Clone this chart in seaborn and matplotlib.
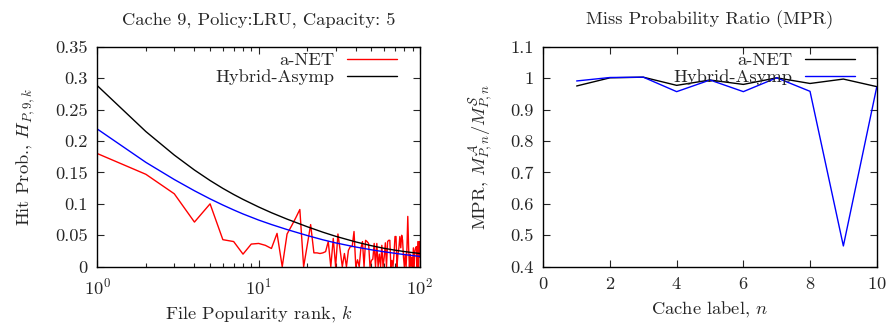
import numpy as np
import pandas as pd
import matplotlib
matplotlib.use("Agg")
import matplotlib.pyplot as plt
import seaborn as sns
from matplotlib.ticker import FixedLocator, FixedFormatter, LogLocator, NullFormatter

# ---------------- data ----------------
# Left panel: hit probability vs popularity rank
rank_k = list(range(1, 101))
anet_hit = [0.180, 0.147, 0.116, 0.071, 0.100, 0.043, 0.040, 0.020, 0.036, 0.037,
            0.034, 0.029, 0.053, 0.000, 0.052, 0.065, 0.078, 0.091, 0.000, 0.034,
            0.067, 0.022, 0.022, 0.021, 0.022, 0.024, 0.040, 0.000, 0.045, 0.000,
            0.052, 0.026, 0.000, 0.021, 0.000, 0.026, 0.032, 0.032, 0.056, 0.000,
            0.011, 0.000, 0.029, 0.040, 0.000, 0.042, 0.040, 0.037, 0.000, 0.010,
            0.012, 0.037, 0.000, 0.037, 0.000, 0.020, 0.000, 0.034, 0.000, 0.015,
            0.038, 0.000, 0.040, 0.042, 0.042, 0.000, 0.010, 0.000, 0.020, 0.048,
            0.048, 0.000, 0.020, 0.030, 0.048, 0.030, 0.050, 0.042, 0.015, 0.000,
            0.020, 0.000, 0.030, 0.080, 0.030, 0.000, 0.020, 0.000, 0.015, 0.000,
            0.030, 0.000, 0.025, 0.030, 0.032, 0.000, 0.040, 0.000, 0.040, 0.015]

curve_k = [1, 2, 3, 4, 5, 6, 7, 8, 10, 12, 15, 20, 25, 30, 40, 50, 60, 70, 80, 90, 100]
hybrid_hit = [0.288, 0.215, 0.1776, 0.1538, 0.1371, 0.1246, 0.1149, 0.1071, 0.0950, 0.0859,
              0.0757, 0.0636, 0.0549, 0.0484, 0.0394, 0.0334, 0.0292, 0.0263, 0.0241, 0.0224, 0.0210]
blue_hit = [0.219, 0.166, 0.1387, 0.1208, 0.1079, 0.0981, 0.0903, 0.0839, 0.0742, 0.0671,
            0.0591, 0.0496, 0.0428, 0.0379, 0.0313, 0.0269, 0.0237, 0.0213, 0.0193, 0.0177, 0.0163]

# Right panel: miss probability ratio per cache
cache_n = [1, 2, 3, 4, 5, 6, 7, 8, 9, 10]
mpr_anet = [0.975, 1.001, 1.003, 0.977, 0.994, 0.980, 1.001, 0.983, 0.997, 0.973]
mpr_hybrid = [0.991, 1.002, 1.003, 0.957, 0.994, 0.957, 1.001, 0.958, 0.466, 0.971]

left_yticks = [0, 0.05, 0.1, 0.15, 0.2, 0.25, 0.3, 0.35]
left_ylabels = ["0", "0.05", "0.1", "0.15", "0.2", "0.25", "0.3", "0.35"]
right_yticks = [0.4, 0.5, 0.6, 0.7, 0.8, 0.9, 1.0, 1.1]
right_ylabels = ["0.4", "0.5", "0.6", "0.7", "0.8", "0.9", "1", "1.1"]
right_xticks = [0, 2, 4, 6, 8, 10]

# ---------------- style ----------------
sns.set_style("ticks")
plt.rcParams["font.family"] = ["cmr10", "DejaVu Serif"]
plt.rcParams["mathtext.fontset"] = "cm"
plt.rcParams["axes.unicode_minus"] = False
plt.rcParams["axes.formatter.use_mathtext"] = True
FS = 13.3

fig = plt.figure(figsize=(8.88, 3.24), dpi=100)
axL = fig.add_axes([97.3 / 888, (324 - 266.7) / 324, 322.7 / 888, 220 / 324])
axR = fig.add_axes([543.3 / 888, (324 - 266.7) / 324, 333.4 / 888, 220 / 324])

# ---- left ----
df_red = pd.DataFrame({"k": rank_k, "h": anet_hit})
df_curves = pd.DataFrame({"k": curve_k, "hyb": hybrid_hit, "blue": blue_hit})
sns.lineplot(data=df_red, x="k", y="h", ax=axL, color="#ff0000", lw=1.0, label="a-NET")
sns.lineplot(data=df_curves, x="k", y="hyb", ax=axL, color="black", lw=1.0, label="Hybrid-Asymp")
sns.lineplot(data=df_curves, x="k", y="blue", ax=axL, color="#0000ff", lw=1.0, label="_nolegend_")
axL.set_xscale("log")
axL.set_xlim(1, 100)
axL.set_ylim(0, 0.35)
axL.yaxis.set_major_locator(FixedLocator(left_yticks))
axL.yaxis.set_major_formatter(FixedFormatter(left_ylabels))
axL.xaxis.set_major_locator(LogLocator(base=10))
axL.xaxis.set_minor_locator(LogLocator(base=10, subs=np.arange(2, 10)))
axL.xaxis.set_minor_formatter(NullFormatter())
axL.set_title("Cache 9, Policy:LRU, Capacity: 5", fontsize=FS, pad=16)
axL.set_xlabel(r"File Popularity rank, $k$", fontsize=FS, labelpad=5)
axL.set_ylabel(r"Hit Prob., $H_{P,9,k}$", fontsize=FS, labelpad=13)

# ---- right ----
df_mpr = pd.DataFrame({"n": cache_n, "anet": mpr_anet, "hyb": mpr_hybrid})
sns.lineplot(data=df_mpr, x="n", y="anet", ax=axR, color="black", lw=1.0, label="a-NET")
sns.lineplot(data=df_mpr, x="n", y="hyb", ax=axR, color="#0000ff", lw=1.0, label="Hybrid-Asymp")
axR.set_xlim(0, 10)
axR.set_ylim(0.4, 1.1)
axR.yaxis.set_major_locator(FixedLocator(right_yticks))
axR.yaxis.set_major_formatter(FixedFormatter(right_ylabels))
axR.xaxis.set_major_locator(FixedLocator(right_xticks))
axR.set_title("Miss Probability Ratio (MPR)", fontsize=FS, pad=16)
axR.set_xlabel(r"Cache label, $n$", fontsize=FS, labelpad=5)
axR.set_ylabel(r"MPR, $M^{\mathcal{A}}_{P,n}/M^{\mathcal{S}}_{P,n}$", fontsize=FS, labelpad=11)

for ax in (axL, axR):
    for s in ax.spines.values():
        s.set_visible(True)
        s.set_linewidth(1.0)
        s.set_color("black")
    ax.tick_params(which="major", direction="in", length=5, width=0.8,
                   top=True, right=True, labelsize=FS, pad=7)
    ax.tick_params(which="minor", direction="in", length=3, width=0.8,
                   top=True, right=True)

axL.legend(loc="upper right", bbox_to_anchor=(0.929, 0.975), frameon=False,
           markerfirst=False, fontsize=FS, handlelength=2.7, handletextpad=0.7,
           labelspacing=0.05, borderaxespad=0, borderpad=0)
axR.legend(loc="upper right", bbox_to_anchor=(0.935, 0.975), frameon=False,
           markerfirst=False, fontsize=FS, handlelength=2.7, handletextpad=0.7,
           labelspacing=0.05, borderaxespad=0, borderpad=0)

fig.savefig("out.png", dpi=100)
